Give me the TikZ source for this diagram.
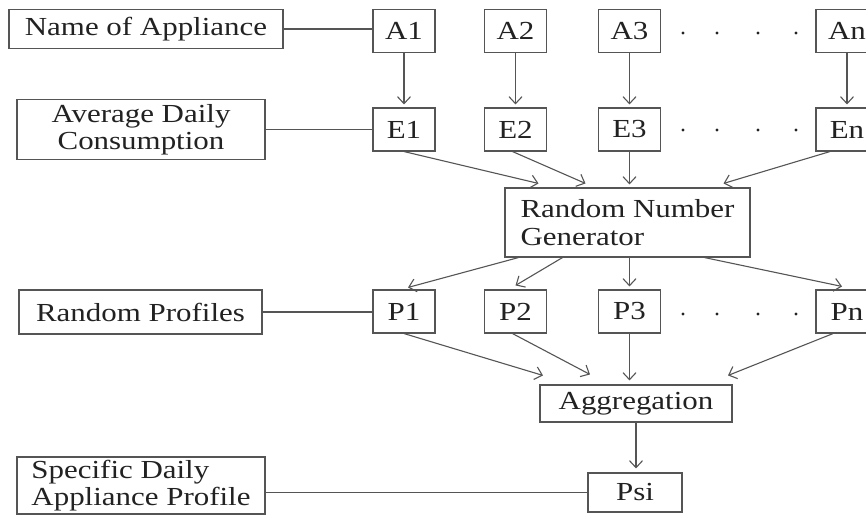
\documentclass[tikz,border=0pt]{standalone}
\usepackage{fontspec}
\setmainfont{Liberation Serif}[FakeStretch=1.19]
\usetikzlibrary{arrows.meta}
\definecolor{ink}{HTML}{222222}
\definecolor{wire}{HTML}{555555}
\begin{document}
\begin{tikzpicture}[x=1pt,y=-1pt,
  box/.style={draw=wire, line width=1.1pt, text=ink, inner sep=0pt,
    font=\fontsize{26}{27.5}\selectfont},
  small/.style={box, minimum width=62pt, minimum height=43pt},
  conn/.style={draw=wire, line width=1.1pt},
  arr/.style={conn, -{Straight Barb[length=7pt,width=13pt]}},
  dot/.style={fill=ink}]
\useasboundingbox (0,0) rectangle (866,515);
\fill[white] (0,0) rectangle (866,515);

% row labels
\node[box, minimum width=274pt, minimum height=39pt] (nameA) at (146,29) {Name of Appliance};
\node[box, minimum width=248pt, minimum height=60pt, align=center] (avg) at (141,129.5) {Average Daily\\Consumption};
\node[box, minimum width=243pt, minimum height=44pt] (rp) at (140.5,312) {Random Profiles};
\node[box, minimum width=248pt, minimum height=57pt, align=left] (spec) at (141,485.5) {Specific Daily\\Appliance Profile};

% appliances
\node[small] (A1) at (404,31) {A1};
\node[small] (A2) at (515.5,31) {A2};
\node[small] (A3) at (629.5,31) {A3};
\node[small] (An) at (847,31) {An};

% energy
\node[small] (E1) at (404,129.5) {E1};
\node[small] (E2) at (515.5,129.5) {E2};
\node[small] (E3) at (629.5,129.5) {E3};
\node[small] (En) at (847,129.5) {En};

% generator
\node[box, minimum width=245pt, minimum height=69pt, align=left] (rng) at (627.5,222.5) {Random Number\\Generator};

% profiles
\node[small] (P1) at (404,311.5) {P1};
\node[small] (P2) at (515.5,311.5) {P2};
\node[small] (P3) at (629.5,311.5) {P3};
\node[small] (Pn) at (847,311.5) {Pn};

% aggregation and result
\node[box, minimum width=192pt, minimum height=37pt] (agg) at (636,403.5) {Aggregation};
\node[box, minimum width=94pt, minimum height=39pt] (psi) at (635,492.5) {Psi};

% ellipsis dots
\foreach \y in {33,130,314}
  \foreach \x in {683,717,758,796}
    \fill[dot] (\x,\y) circle (1.7pt);

% label links
\draw[conn] (nameA.east) -- (nameA.east -| A1.west);
\draw[conn] (avg.east) -- (avg.east -| E1.west);
\draw[conn] (rp.east) -- (rp.east -| P1.west);
\draw[conn] (psi.west) -- (psi.west -| spec.east);

% A -> E
\foreach \i in {1,2,3,n}
  \draw[arr] (A\i.south) -- ([yshift=3pt]E\i.north);

% E -> generator
\draw[arr] (E1.south) -- ([xshift=-89pt,yshift=4pt]rng.north);
\draw[arr] ([xshift=-3pt]E2.south) -- ([xshift=-42pt,yshift=4pt]rng.north);
\draw[arr] (E3.south) -- ([yshift=3pt]rng.north -| E3.south);
\draw[arr] ([xshift=-17pt]En.south) -- ([xshift=96pt,yshift=4pt]rng.north);

% generator -> P
\draw[arr] ([xshift=-109pt]rng.south) -- ([xshift=4pt,yshift=2pt]P1.north);
\draw[arr] ([xshift=-65pt]rng.south) -- ([yshift=4pt]P2.north);
\draw[arr] (rng.south -| P3.north) -- ([yshift=3pt]P3.north);
\draw[arr] ([xshift=77pt]rng.south) -- ([xshift=-5pt,yshift=3pt]Pn.north);

% P -> aggregation
\draw[arr] (P1.south) -- ([xshift=-93pt,yshift=9pt]agg.north);
\draw[arr] ([xshift=-3pt]P2.south) -- ([xshift=-46pt,yshift=10pt]agg.north);
\draw[arr] (P3.south) -- ([yshift=4pt]agg.north -| P3.south);
\draw[arr] ([xshift=-14pt]Pn.south) -- ([xshift=92pt,yshift=9pt]agg.north);

% aggregation -> result
\draw[arr] (agg.south) -- ([yshift=4pt]psi.north -| agg.south);
\end{tikzpicture}
\end{document}
